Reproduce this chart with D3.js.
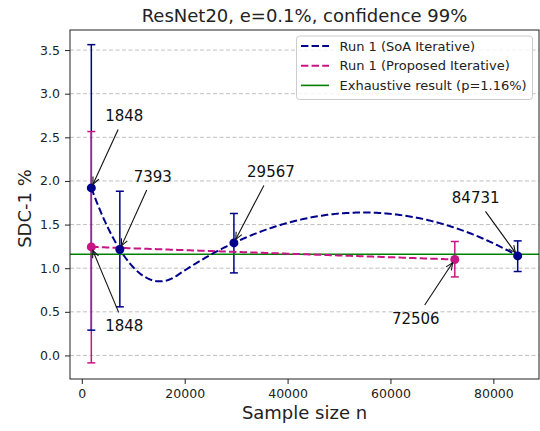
<!DOCTYPE html>
<html>
<head>
<meta charset="utf-8">
<script src="https://cdn.jsdelivr.net/npm/d3@7"></script>
<style>
  body { margin: 0; background: #fff; }
  text { font-family: "DejaVu Sans", sans-serif; }
</style>
</head>
<body>
<div id="vis"></div>
<script>
// values
const soaN = [1848, 7393, 29567, 84731];
const soaSdc = [1.92, 1.214, 1.29, 1.141];
const soaLow = [0.29, 0.557, 0.946, 0.962];
const soaHigh = [3.562, 1.882, 1.627, 1.313];

const propN = [1848, 72506];
const propSdc = [1.244, 1.10];
const propLow = [-0.085, 0.90];
const propHigh = [2.566, 1.306];

const exhaustiveP = 1.16;

const xTicks = [0, 20000, 40000, 60000, 80000];
const yTicks = [0, 0.5, 1.0, 1.5, 2.0, 2.5, 3.0, 3.5];
const legendLabels = ["Run 1 (SoA Iterative)", "Run 1 (Proposed Iterative)", "Exhaustive result (p=1.16%)"];

// layout only: where each annotation text sits relative to its point (px)
const soaLabelOffsets = [[33, -72], [33, -73], [37, -71], [-42, -58]];
const propLabelOffsets = [[33, 79], [-39, 59]];

const W = 540, H = 431;
const pLeft = 70, pRight = 539, pTop = 30, pBottom = 379;
const blue = "#00008b", pink = "#c71585", green = "#008000";
const dash = "7.4,3.2";

let svg = d3.select("#vis").append("svg")
    .attr("width", W)
    .attr("height", H);

let x = d3.scaleLinear().domain([-2296, 88875]).range([pLeft, pRight]);
let y = d3.scaleLinear().domain([-0.27, 3.73]).range([pBottom, pTop]);

// grid
svg.append("g").selectAll("line")
    .data(yTicks)
    .join("line")
    .attr("x1", pLeft).attr("x2", pRight)
    .attr("y1", d => y(d)).attr("y2", d => y(d))
    .attr("stroke", "#b0b0b0")
    .attr("stroke-width", 0.8)
    .attr("stroke-dasharray", "4,2.5");

// axes
let xAxis = svg.append("g")
    .attr("transform", `translate(0,${pBottom})`)
    .call(d3.axisBottom(x).tickValues(xTicks).tickFormat(d3.format("d")).tickSize(5).tickPadding(5));
let yAxis = svg.append("g")
    .attr("transform", `translate(${pLeft},0)`)
    .call(d3.axisLeft(y).tickValues(yTicks).tickFormat(d3.format(".1f")).tickSize(5).tickPadding(5));
[xAxis, yAxis].forEach(g => {
    g.select(".domain").remove();
    g.selectAll("text").attr("font-size", 12.5).attr("fill", "#222").style("font-family", "DejaVu Sans");
    g.selectAll("line").attr("stroke", "#222");
});

// interpolating B-spline (degree 2, like the original smooth curve), sampled for drawing
function splinePath(xs, ys, deg) {
    let n = xs.length;
    let k = Math.min(deg, n - 1);
    let interior;
    if (k % 2 === 1) {
        let k2 = (k + 1) / 2;
        interior = xs.slice(k2, n - k2);
    } else {
        let k2 = k / 2;
        let mids = xs.slice(1).map((v, i) => (v + xs[i]) / 2);
        interior = mids.slice(k2, mids.length - k2);
    }
    let t = [...Array(k + 1).fill(xs[0]), ...interior, ...Array(k + 1).fill(xs[n - 1])];
    let last = xs[n - 1];

    function basis(i, p, xv) {
        if (p === 0) {
            if (t[i] <= xv && xv < t[i + 1]) return 1;
            if (xv === last && t[i] < t[i + 1] && t[i + 1] === last) return 1;
            return 0;
        }
        let l = 0, r = 0;
        if (t[i + p] !== t[i]) l = (xv - t[i]) / (t[i + p] - t[i]) * basis(i, p - 1, xv);
        if (t[i + p + 1] !== t[i + 1]) r = (t[i + p + 1] - xv) / (t[i + p + 1] - t[i + 1]) * basis(i + 1, p - 1, xv);
        return l + r;
    }

    // collocation system
    let A = xs.map(xv => d3.range(n).map(i => basis(i, k, xv)));
    let b = ys.slice();
    for (let col = 0; col < n; col++) {
        let piv = col;
        for (let r = col + 1; r < n; r++) if (Math.abs(A[r][col]) > Math.abs(A[piv][col])) piv = r;
        [A[col], A[piv]] = [A[piv], A[col]];
        [b[col], b[piv]] = [b[piv], b[col]];
        for (let r = col + 1; r < n; r++) {
            let f = A[r][col] / A[col][col];
            for (let cc = col; cc < n; cc++) A[r][cc] -= f * A[col][cc];
            b[r] -= f * b[col];
        }
    }
    let coef = new Array(n);
    for (let r = n - 1; r >= 0; r--) {
        let s = b[r];
        for (let cc = r + 1; cc < n; cc++) s -= A[r][cc] * coef[cc];
        coef[r] = s / A[r][r];
    }

    let steps = 300;
    return d3.range(steps + 1).map(s => {
        let xv = xs[0] + (last - xs[0]) * s / steps;
        let yv = d3.sum(coef, (c, i) => c * basis(i, k, xv));
        return [xv, yv];
    });
}

let line = d3.line().x(d => x(d[0])).y(d => y(d[1]));

// error bars
function errorBars(ns, lows, highs, color) {
    svg.append("g").selectAll("line")
        .data(ns)
        .join("line")
        .attr("x1", d => x(d)).attr("x2", d => x(d))
        .attr("y1", (d, i) => y(lows[i])).attr("y2", (d, i) => y(highs[i]))
        .attr("stroke", color).attr("stroke-width", 1.5);
}
function caps(ns, lows, highs, color) {
    let g = svg.append("g");
    ns.forEach((d, i) => {
        [lows[i], highs[i]].forEach(v => {
            g.append("line")
                .attr("x1", x(d) - 4).attr("x2", x(d) + 4)
                .attr("y1", y(v)).attr("y2", y(v))
                .attr("stroke", color).attr("stroke-width", 1.5);
        });
    });
}
errorBars(soaN, soaLow, soaHigh, blue);
errorBars(propN, propLow, propHigh, pink);
caps(soaN, soaLow, soaHigh, blue);
caps(propN, propLow, propHigh, pink);

// exhaustive result
svg.append("line")
    .attr("x1", pLeft).attr("x2", pRight)
    .attr("y1", y(exhaustiveP)).attr("y2", y(exhaustiveP))
    .attr("stroke", green).attr("stroke-width", 1.6);

// dashed curves
svg.append("path")
    .attr("d", line(splinePath(propN, propSdc, 2)))
    .attr("fill", "none").attr("stroke", pink).attr("stroke-width", 2)
    .attr("stroke-dasharray", dash);
svg.append("path")
    .attr("d", line(splinePath(soaN, soaSdc, 2)))
    .attr("fill", "none").attr("stroke", blue).attr("stroke-width", 2)
    .attr("stroke-dasharray", dash);

// markers
svg.append("g").selectAll("circle")
    .data(soaN)
    .join("circle")
    .attr("cx", d => x(d)).attr("cy", (d, i) => y(soaSdc[i]))
    .attr("r", 4.5).attr("fill", blue);
svg.append("g").selectAll("circle")
    .data(propN)
    .join("circle")
    .attr("cx", d => x(d)).attr("cy", (d, i) => y(propSdc[i]))
    .attr("r", 4.5).attr("fill", pink);

// annotations with arrows
function annotate(ns, vals, offsets) {
    ns.forEach((d, i) => {
        let px = x(d), py = y(vals[i]);
        let cx = px + offsets[i][0], cy = py + offsets[i][1];
        let t = svg.append("text")
            .attr("x", cx).attr("y", cy + 15 * 0.3645)
            .attr("text-anchor", "middle")
            .attr("font-size", 15).attr("fill", "#111")
            .text(d);
        let hw = t.node().getComputedTextLength() / 2 + 4, hh = 13.5;
        let dx = px - cx, dy = py - cy;
        let s = Math.min(Math.abs(hw / dx), Math.abs(hh / dy));
        let sx = cx + dx * s, sy = cy + dy * s;
        let len = Math.hypot(px - sx, py - sy);
        let ux = (px - sx) / len, uy = (py - sy) / len;
        let ex = px - ux * 4, ey = py - uy * 4;
        svg.append("line")
            .attr("x1", sx).attr("y1", sy).attr("x2", ex).attr("y2", ey)
            .attr("stroke", "#111").attr("stroke-width", 1.1);
        let hl = 7, hwid = 3.2;
        svg.append("path")
            .attr("d", `M${ex - ux * hl - uy * hwid},${ey - uy * hl + ux * hwid}L${ex},${ey}L${ex - ux * hl + uy * hwid},${ey - uy * hl - ux * hwid}`)
            .attr("fill", "none").attr("stroke", "#111").attr("stroke-width", 1.1);
    });
}
annotate(soaN, soaSdc, soaLabelOffsets);
annotate(propN, propSdc, propLabelOffsets);

// frame
svg.append("rect")
    .attr("x", pLeft).attr("y", pTop)
    .attr("width", pRight - pLeft).attr("height", pBottom - pTop)
    .attr("fill", "none").attr("stroke", "#222").attr("stroke-width", 1);

// legend
let lg = svg.append("g");
lg.append("rect")
    .attr("x", 296.5).attr("y", 36).attr("width", 236).attr("height", 63.5).attr("rx", 3)
    .attr("fill", "#fff").attr("fill-opacity", 0.8)
    .attr("stroke", "#cccccc").attr("stroke-width", 1);
let legendColors = [blue, pink, green];
let legendDash = [dash, dash, null];
let legendWidth = [2, 2, 1.6];
legendLabels.forEach((lab, i) => {
    let ly = 46 + i * 19.7;
    lg.append("line")
        .attr("x1", 301).attr("x2", 329).attr("y1", ly).attr("y2", ly)
        .attr("stroke", legendColors[i]).attr("stroke-width", legendWidth[i])
        .attr("stroke-dasharray", legendDash[i]);
    lg.append("text")
        .attr("x", 339.5).attr("y", ly + 4.6)
        .attr("font-size", 13).attr("fill", "#222")
        .text(lab);
});

// title and axis labels
svg.append("text")
    .attr("x", (pLeft + pRight) / 2).attr("y", 21.5)
    .attr("text-anchor", "middle").attr("font-size", 18).attr("fill", "#222")
    .text("ResNet20, e=0.1%, confidence 99%");
svg.append("text")
    .attr("x", (pLeft + pRight) / 2).attr("y", 419)
    .attr("text-anchor", "middle").attr("font-size", 18).attr("fill", "#222")
    .text("Sample size n");
svg.append("text")
    .attr("transform", `translate(24,${(pTop + pBottom) / 2 + 4}) rotate(-90)`)
    .attr("text-anchor", "middle").attr("dominant-baseline", "central")
    .attr("font-size", 18).attr("fill", "#222")
    .text("SDC-1 %");
</script>
</body>
</html>
